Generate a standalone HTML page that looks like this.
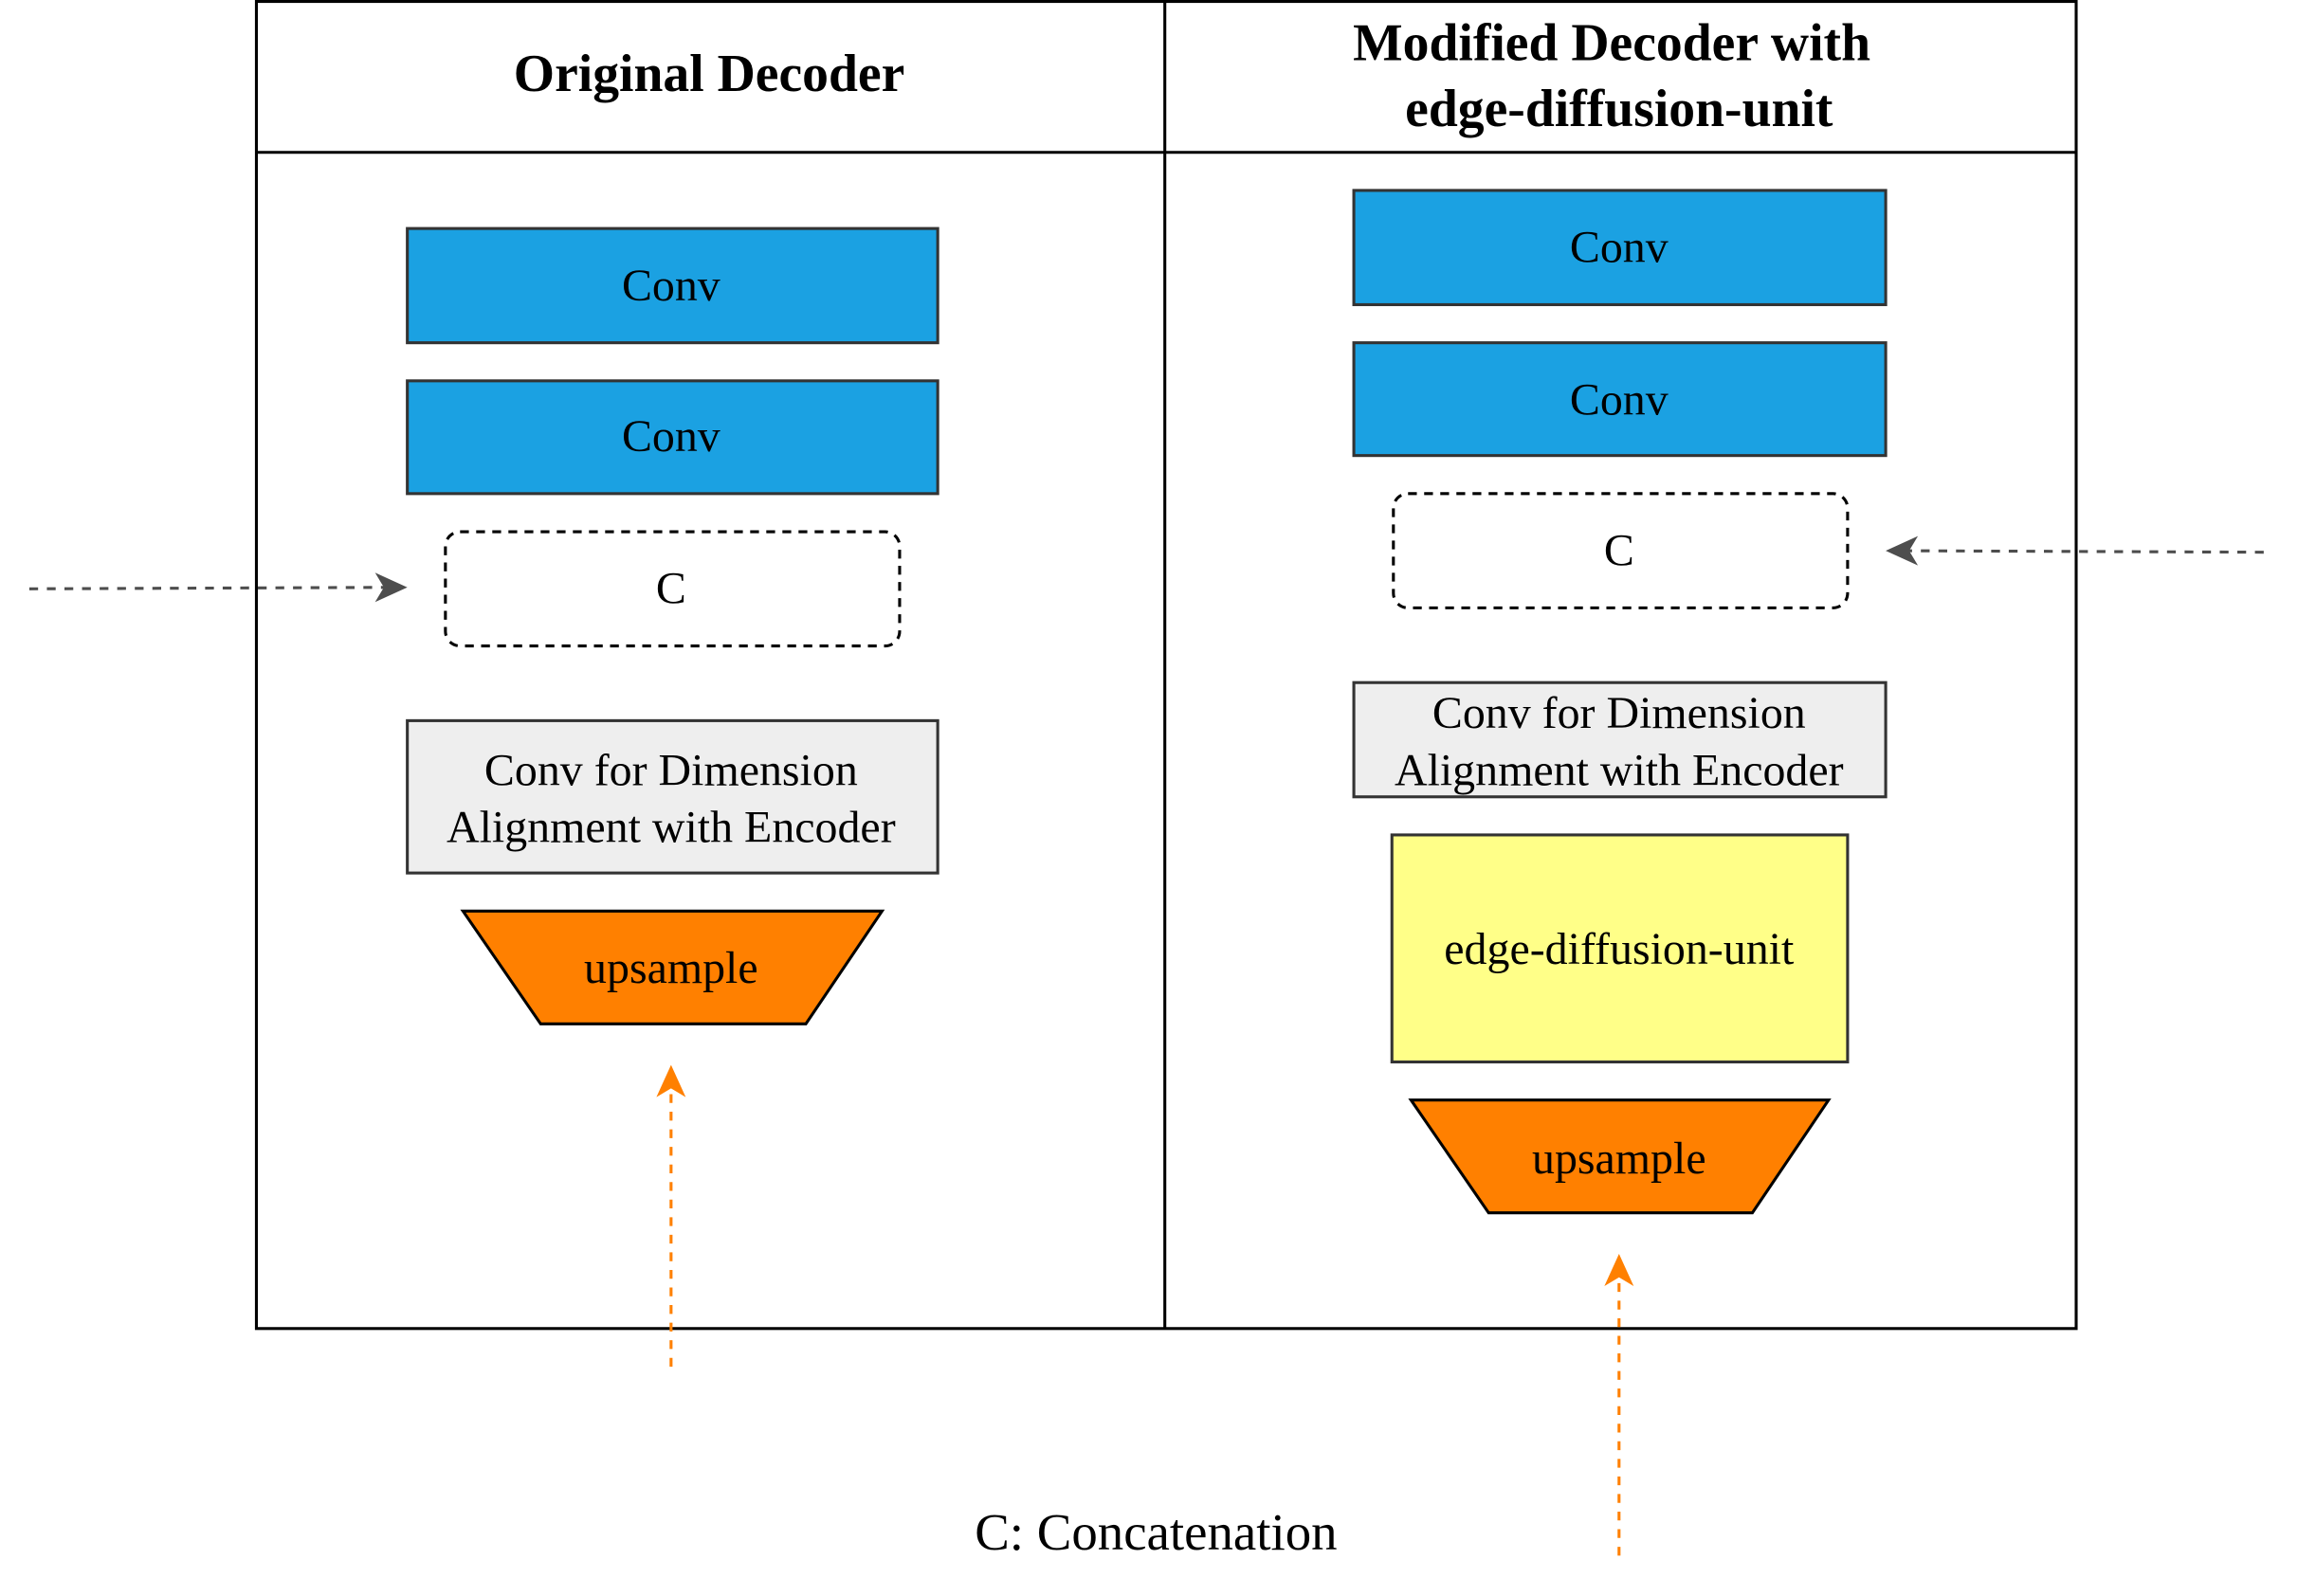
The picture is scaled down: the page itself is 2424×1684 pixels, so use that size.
<!DOCTYPE html>
<html><head><meta charset="utf-8"><style>html,body{margin:0;padding:0;background:#fff}svg{display:block}</style></head>
<body>
<svg width="2424" height="1684" viewBox="0 0 1568.4 1089.6" preserveAspectRatio="none" xmlns="http://www.w3.org/2000/svg" font-family="'Liberation Serif', serif">
<rect width="1569" height="1090" fill="#fff"/>
<rect x="175" y="1" width="1242" height="906" fill="none" stroke="#000" stroke-width="2"/>
<line x1="175" y1="104" x2="1417" y2="104" stroke="#000" stroke-width="2"/>
<line x1="795" y1="1" x2="795" y2="907" stroke="#000" stroke-width="2"/>
<text x="484" y="62" font-size="36" font-weight="bold" text-anchor="middle">Original Decoder</text>
<text x="1100" y="41" font-size="36" font-weight="bold" text-anchor="middle">Modified Decoder with</text>
<text x="1105" y="86" font-size="36" font-weight="bold" text-anchor="middle">edge-diffusion-unit</text>
<g stroke="#333" stroke-width="2">
<rect x="278" y="156" width="362" height="78" fill="#1ba1e2"/>
<rect x="278" y="260" width="362" height="77" fill="#1ba1e2"/>
<rect x="304" y="363" width="310" height="78" rx="10" fill="#fff" stroke="#000" stroke-dasharray="6,5"/>
<rect x="278" y="492" width="362" height="104" fill="#eeeeee"/>
<polygon points="316,622 602,622 550,699 369,699" fill="#ff8000" stroke="#000"/>
<rect x="924" y="130" width="363" height="78" fill="#1ba1e2"/>
<rect x="924" y="234" width="363" height="77" fill="#1ba1e2"/>
<rect x="951" y="337" width="310" height="78" rx="10" fill="#fff" stroke="#000" stroke-dasharray="6,5"/>
<rect x="924" y="466" width="363" height="78" fill="#eeeeee"/>
<rect x="950" y="570" width="311" height="155" fill="#ffff88"/>
<polygon points="963,751 1248,751 1196,828 1016,828" fill="#ff8000" stroke="#000"/>
</g>
<g font-size="31" text-anchor="middle" fill="#000">
<text x="458" y="205">Conv</text>
<text x="458" y="308">Conv</text>
<text x="458" y="412">C</text>
<text x="458" y="536">Conv for Dimension</text>
<text x="458" y="575">Alignment with Encoder</text>
<text x="458" y="671">upsample</text>
<text x="1105" y="179">Conv</text>
<text x="1105" y="283">Conv</text>
<text x="1105" y="386">C</text>
<text x="1105" y="497">Conv for Dimension</text>
<text x="1105" y="536">Alignment with Encoder</text>
<text x="1105" y="658">edge-diffusion-unit</text>
<text x="1105" y="801">upsample</text>
<text x="789" y="1058" font-size="35.5">C: Concatenation</text>
</g>
<g stroke-width="2" fill="none" stroke-dasharray="6,6">
<line x1="20" y1="402" x2="265" y2="401" stroke="#4d4d4d"/>
<line x1="1545" y1="377" x2="1300" y2="376" stroke="#4d4d4d"/>
<line x1="458" y1="933" x2="458" y2="740" stroke="#ff8000"/>
<line x1="1105" y1="1062" x2="1105" y2="868" stroke="#ff8000"/>
</g>
<polygon points="278,401 256,391 262,401 256,411" fill="#4d4d4d"/>
<polygon points="1287,376 1309,366 1303,376 1309,386" fill="#4d4d4d"/>
<polygon points="458,727 448,749 458,743 468,749" fill="#ff8000"/>
<polygon points="1105,856 1095,878 1105,872 1115,878" fill="#ff8000"/>
</svg>
</body></html>
